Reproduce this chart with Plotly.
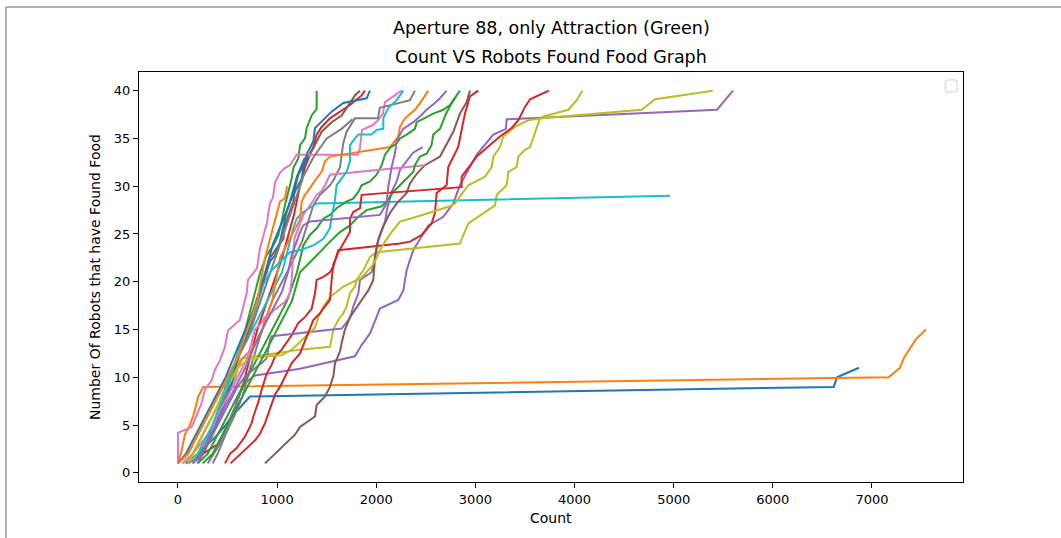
import plotly.graph_objects as go

# ---- data: (count, robots found food) vertices per run ----
run00_count = [80, 200, 300, 400, 480, 550, 640, 726, 6614, 6647, 6869]
run00_found = [1, 2, 3, 4, 5, 6, 7, 8, 9, 10, 11]

run01_count = [0, 30, 70, 120, 155, 180, 205, 255, 7168, 7283, 7320, 7444, 7545]
run01_found = [1, 2, 4, 5, 6, 7, 8, 9, 10, 11, 12, 14, 15]

run02_count = [150, 280, 350, 430, 500, 560, 620, 680, 730, 780, 830, 895, 962, 1012, 1046, 1079, 1113, 1147, 1163, 1214, 1231, 1281, 1298, 1349, 1399, 1399]
run02_found = [1, 3, 5, 7, 9, 11, 13, 15, 17, 19, 21, 22.8, 23.8, 24.9, 26.3, 28, 29.4, 30.8, 31.9, 32.9, 34.3, 35, 36.1, 37.4, 38.1, 40]

run03_count = [100, 250, 400, 500, 580, 650, 700, 750, 800, 850, 900, 950, 1000, 1050, 1090, 1130, 1170, 1200, 1230, 1264, 1281, 1331, 1365, 1399, 1449, 1533, 1667, 1735, 1853, 1886]
run03_found = [1, 2, 3, 5, 7, 9, 11, 13, 15, 16.5, 18, 19.5, 21, 22.5, 24, 25.5, 27, 28.5, 30, 31.2, 32, 33.3, 34.1, 35.4, 36.2, 37.1, 38, 38.5, 39.5, 40]

run04_count = [300, 420, 500, 580, 650, 710, 777, 1231, 1785, 1853, 1937, 1987, 2037, 2222, 2273, 2290, 2307, 2340, 2373, 2525, 2676, 2777, 2844, 2928, 3013, 3181, 3308, 3315, 5437, 5598]
run04_found = [1, 3, 5, 7, 9, 9.7, 10.2, 10.9, 12.2, 13.4, 14.6, 16, 17.2, 18.1, 19.1, 20.2, 21.2, 22.3, 23.3, 25.9, 26.8, 28.2, 30.1, 31.7, 33.3, 35.4, 36, 37, 38, 40]

run05_count = [200, 300, 380, 450, 520, 580, 640, 700, 760, 820, 895, 928, 995, 1063, 1079, 1113, 1163, 1180, 1214, 1264, 1315, 1365, 1449, 1550, 1651, 1718, 1785, 1836]
run05_found = [1, 3, 5, 7, 9, 11, 13, 15, 17, 19, 21, 22.5, 23.5, 24.5, 25.9, 27, 28.4, 29.8, 31.2, 32.2, 33.1, 34, 35.7, 36.7, 37.4, 38.5, 39.5, 40]

run06_count = [0, 0, 138, 239, 272, 340, 373, 424, 474, 504, 625, 693, 706, 797, 827, 857, 898, 908, 928, 958, 979, 1029, 1079, 1130, 1197, 1816, 1836, 1856, 1967, 2017, 2068, 2088, 2189, 2256]
run06_found = [1, 4.2, 4.8, 7.3, 8.7, 9.7, 10.8, 11.8, 13.2, 14.9, 16, 18.8, 20.2, 21.4, 23.5, 24.6, 26.2, 27, 28.2, 28.8, 30.4, 31.4, 31.9, 32.2, 33.3, 33.3, 34, 35.9, 36.4, 36.9, 37.6, 38.8, 39.5, 40]

run07_count = [350, 400, 480, 570, 650, 700, 760, 820, 880, 950, 1050, 1150, 1251, 1281, 1331, 1365, 1432, 1533, 1567, 1634, 1667, 1701, 1785, 2017, 2037, 2340, 2390]
run07_found = [1, 2, 4, 6, 8, 10, 12, 14, 16, 18, 20, 22, 24.2, 25.2, 26.7, 28, 29.1, 30.1, 30.6, 32, 34.5, 35.7, 37.1, 37.1, 38.2, 39, 40]

run08_count = [100, 200, 300, 400, 500, 580, 625, 660, 1231, 1533, 1567, 1617, 1667, 1701, 1735, 1785, 1802, 1870, 1937, 2004, 2542, 2844, 2928, 3198, 3215, 3315, 3332, 3416, 3433, 3500, 3551, 3584, 3618, 3652, 3685, 3937, 4022, 4079]
run08_found = [1, 2, 4, 6, 8, 10, 11.8, 12, 12.9, 13.2, 15, 16, 16.7, 17.4, 18.8, 19.5, 20.2, 21.2, 22.6, 23.1, 23.7, 24, 26.1, 28, 29.1, 30.1, 31.5, 32, 33.1, 33.8, 34.1, 35.2, 36.1, 37.1, 37.3, 38, 39, 40]

run09_count = [100, 200, 300, 400, 480, 550, 650, 750, 850, 950, 1050, 1100, 1163, 1197, 1264, 1399, 4963]
run09_found = [1, 3, 5, 7, 9, 11, 13, 15, 17, 19, 21, 23, 25.6, 26.6, 27.3, 28.2, 29]

run10_count = [150, 250, 350, 420, 500, 560, 600, 640, 720, 780, 830, 878, 928, 979, 1029, 1063, 1096, 1130, 1180, 1231, 1248, 1264, 1298, 1365, 1382, 1432, 1550, 1667, 1903, 1937]
run10_found = [1, 2, 4, 6, 8, 10, 12, 13, 15, 17, 19, 20.7, 22.1, 22.8, 24.2, 25.9, 27.3, 28.4, 29.4, 30.5, 30.8, 31.9, 33.3, 34.7, 36.1, 36.6, 37.8, 38.7, 39.2, 40]

run11_count = [50, 150, 250, 350, 450, 550, 650, 750, 850, 950, 1029, 1113, 1231, 1248, 1281, 1331, 1382, 1449, 1483, 1533, 1836, 2138, 2222, 2239, 2290, 2390, 2441, 2525]
run11_found = [1, 2, 4, 6, 8, 10, 12, 13, 15, 18, 22.5, 24.2, 26.5, 28.4, 29.1, 29.8, 30.6, 31.5, 32.6, 33.1, 33.6, 34.1, 35.2, 36.2, 37.1, 38, 38.7, 40]

run12_count = [200, 300, 400, 500, 600, 700, 800, 900, 1000, 1100, 1200, 1264, 1331, 1399, 1466, 1533, 1600, 1701, 1768, 1819, 1853, 1937, 2004, 2055, 2088, 2138, 2206, 2239, 2307, 2390, 2408, 2575, 2676, 2744, 2844]
run12_found = [1, 2, 4, 6, 8, 10, 12, 14, 16, 18, 21, 23.8, 24.9, 25.6, 26.6, 27, 27.7, 28.4, 28.7, 29.4, 30.1, 30.5, 31.2, 32.2, 33.3, 34, 34.5, 35, 35.4, 36, 36.7, 37.6, 38, 38.5, 40]

run13_count = [474, 525, 592, 643, 676, 710, 743, 760, 794, 810, 844, 878, 895, 945, 979, 1046, 1096, 1147, 1214, 1281, 1349, 1382, 1399, 1466, 1533, 1567, 1617, 2239, 2340, 2458, 2558, 2592, 2609, 2710, 2726, 2827, 2861, 2895, 2945, 3029]
run13_found = [1, 2, 2.6, 3.4, 3.8, 4.5, 5.2, 5.9, 6.8, 7.4, 8.7, 9.7, 10.4, 11.3, 12.2, 12.9, 13.6, 14.4, 15.7, 16.3, 17.2, 18.8, 20.2, 20.5, 21, 21.6, 23.3, 24, 24.2, 24.9, 26.1, 27.2, 29.3, 30.1, 32, 34.1, 35.9, 37.6, 39.4, 40]

run14_count = [150, 200, 300, 400, 500, 600, 676, 777, 844, 894, 911, 928, 945, 1231, 1651, 1735, 1768, 1819, 1836, 1953, 1987, 2004, 2037, 2088, 2111, 2155, 2206, 2239, 2307, 2371, 2468]
run14_found = [1, 1.5, 3, 5, 7, 9, 10.1, 10.9, 11.5, 12, 13.2, 13.9, 14.3, 14.6, 15.1, 16.2, 17.4, 18.8, 20.2, 21, 22.5, 23.8, 24.9, 26.3, 27.7, 29.4, 30.5, 31.7, 32.6, 33.5, 34.1]

run15_count = [878, 979, 1079, 1180, 1231, 1382, 1399, 1483, 1533, 1567, 1584, 1634, 1651, 1684, 1735, 1802, 1853, 1920, 1970, 1987, 2021, 2071, 2138, 2206, 2307, 2340, 2408, 2491, 2643, 2777, 2844, 2912, 2945]
run15_found = [1, 2, 3, 4, 4.8, 5.9, 7.1, 8, 9, 10.1, 11.5, 12.7, 13.6, 15, 16.3, 17.4, 18.1, 19.1, 20.2, 22.5, 24.4, 25.8, 27.2, 28.2, 29.3, 30.3, 31.3, 32.2, 33.1, 35.7, 37.6, 38.8, 40]

run16_count = [50, 150, 300, 450, 600, 700, 777, 844, 878, 1012, 1079, 1130, 1147, 1160, 1175, 1200, 1264, 1365, 1399, 1449, 1483, 1533, 2491]
run16_found = [1, 2, 4, 7, 10, 12, 15, 15.7, 16.3, 17.4, 17.9, 18.8, 20.2, 22.5, 24.5, 25.2, 27, 28.5, 29.1, 29.5, 30.1, 31.2, 32.2]

run17_count = [0, 100, 200, 300, 400, 500, 600, 700, 800, 900, 1000, 1100, 1163, 1264, 1365, 1500, 1650, 1760]
run17_found = [1, 2, 4, 6, 8, 10, 12, 14, 17, 20, 23, 26, 28, 31, 33, 35, 36, 37]

run18_count = [100, 200, 300, 400, 500, 600, 700, 878, 1046, 1147, 1231, 1382, 1416, 1466, 1533, 1667, 1850, 1953, 2004, 2037, 2088, 2155, 2239, 2408, 2744, 2794, 2928, 3097, 3164, 3181, 3248, 3281, 3399, 3534, 3668, 4677, 4811, 5394]
run18_found = [1, 3, 5, 7, 9, 11, 11.8, 12.2, 12.3, 12.9, 13.7, 15.2, 16.3, 17.4, 18.4, 19.5, 20.4, 21.6, 22.5, 23.3, 24.2, 25.2, 26.3, 26.8, 27.9, 28.2, 30.1, 31, 32, 33.1, 34.1, 35.2, 36.2, 36.9, 37.1, 38, 39.1, 40]

run19_count = [150, 250, 350, 420, 500, 560, 620, 700, 780, 861, 928, 1029, 1130, 1231, 1365, 1466, 1533, 1550, 1584, 1600, 1651, 1701, 1735, 1735, 1785, 1819, 1953, 2004, 2071, 2071, 2122, 2206, 2273]
run19_found = [1, 3, 5, 7, 9, 11, 13, 15, 17, 19.7, 21, 22.1, 23.1, 23.3, 23.8, 24.5, 25.6, 26.8, 28.6, 30.1, 30.8, 31.5, 32.6, 34.3, 35, 35.4, 35.4, 35.9, 36, 37.1, 38.2, 39, 40]

run20_count = [0, 80, 180, 280, 380, 480, 560, 640, 720, 800, 880, 960, 1040, 1120, 1200, 1280]
run20_found = [1, 2, 4, 6, 8, 10, 12, 14, 16, 18, 21, 24, 26, 28, 31, 33]

run21_count = [0, 100, 200, 300, 400, 500, 600, 700, 800, 878, 928, 962, 995, 1029, 1079, 1100]
run21_found = [1, 2, 4, 6, 8, 10, 12, 15, 18, 22.5, 24.5, 25.9, 27.3, 28.4, 28.7, 30]

run22_count = [250, 350, 450, 550, 650, 750, 850, 950, 1050, 1150, 1231, 1331, 1432, 1533, 1634, 1735, 1819, 1903, 2055, 2105, 2172, 2239, 2307, 2373, 2390, 2441, 2508, 2558, 2575, 2643, 2700, 2760, 2800]
run22_found = [1, 2, 4, 6, 8, 10, 12, 14, 16, 18, 21, 22.1, 23.1, 24.2, 25.2, 25.9, 26.8, 27.5, 27.9, 28.4, 29.4, 30.1, 30.8, 31.5, 32.2, 33.1, 33.4, 34.3, 35.4, 36, 37.5, 38.7, 39.3]

run23_count = [530, 643, 710, 777, 827, 878, 911, 945, 979, 1029, 1079, 1147, 1231, 1315, 1365, 1432, 1533, 1550, 1567, 1617, 1735, 1735, 1768, 1836, 1853, 2861, 2861, 2912, 3013, 3147, 3248, 3366, 3433, 3500, 3551, 3742]
run23_found = [1, 2.1, 2.7, 3.4, 4.1, 5.2, 6.2, 7.3, 8.2, 9, 10.1, 11.5, 12.5, 14.6, 16, 16.7, 18.1, 20.2, 21.8, 23.1, 25.2, 26.6, 27.3, 27.7, 29.1, 29.9, 31, 31.7, 33.1, 34.3, 35.2, 36.1, 36.9, 38.3, 39.1, 40]

run24_count = [200, 280, 380, 480, 580, 680, 760, 850, 950, 1050, 1113, 1147, 1197, 1231, 1264, 1331, 2037, 2105, 2122, 2155, 2190, 2206, 2272, 2373, 2441, 2508, 2592, 2643, 2710]
run24_found = [1, 3, 5, 7, 9, 11, 13, 15, 17, 19, 21.1, 22.8, 24.2, 25.2, 25.9, 26.3, 27, 28.2, 30, 32, 33.5, 34.8, 36, 36.7, 37.3, 38, 38.7, 39.2, 40]

x_ticks = [0, 1000, 2000, 3000, 4000, 5000, 6000, 7000]
y_ticks = [0, 5, 10, 15, 20, 25, 30, 35, 40]

title_line1 = "Aperture 88, only Attraction (Green)"
title_line2 = "Count VS Robots Found Food Graph"
x_label = "Count"
y_label = "Number Of Robots that have Found Food"

palette = ["#1f77b4", "#ff7f0e", "#2ca02c", "#d62728", "#9467bd",
           "#8c564b", "#e377c2", "#7f7f7f", "#bcbd22", "#17becf"]

runs = [
    (run00_count, run00_found), (run01_count, run01_found), (run02_count, run02_found),
    (run03_count, run03_found), (run04_count, run04_found), (run05_count, run05_found),
    (run06_count, run06_found), (run07_count, run07_found), (run08_count, run08_found),
    (run09_count, run09_found), (run10_count, run10_found), (run11_count, run11_found),
    (run12_count, run12_found), (run13_count, run13_found), (run14_count, run14_found),
    (run15_count, run15_found), (run16_count, run16_found), (run17_count, run17_found),
    (run18_count, run18_found), (run19_count, run19_found), (run20_count, run20_found),
    (run21_count, run21_found), (run22_count, run22_found), (run23_count, run23_found),
    (run24_count, run24_found),
]

fig = go.Figure()
for i, (cx, fy) in enumerate(runs):
    fig.add_trace(go.Scatter(
        x=cx, y=fy, mode="lines",
        line=dict(color=palette[i % 10], width=2),
        showlegend=False, hoverinfo="x+y",
    ))

font_family = "DejaVu Sans"
axis_common = dict(
    showline=True, mirror=True, linecolor="black", linewidth=1,
    ticks="outside", ticklen=5, tickwidth=1, tickcolor="black",
    showgrid=False, zeroline=False,
    tickfont=dict(family=font_family, size=13, color="black"),
)

# rounded empty legend frame (paper coordinates)
lx0, lx1, ly0, ly1, rx, ry = 0.9785, 0.9930, 0.9510, 0.9805, 0.003, 0.006
legend_path = (
    f"M {lx0+rx},{ly0} L {lx1-rx},{ly0} Q {lx1},{ly0} {lx1},{ly0+ry} "
    f"L {lx1},{ly1-ry} Q {lx1},{ly1} {lx1-rx},{ly1} "
    f"L {lx0+rx},{ly1} Q {lx0},{ly1} {lx0},{ly1-ry} "
    f"L {lx0},{ly0+ry} Q {lx0},{ly0} {lx0+rx},{ly0} Z"
)

fig.update_layout(
    width=1061, height=538,
    margin=dict(l=139, r=98, t=72, b=56),
    paper_bgcolor="white", plot_bgcolor="white",
    xaxis=dict(range=[-393, 7918], tickvals=x_ticks, **axis_common),
    yaxis=dict(range=[-0.95, 41.95], tickvals=y_ticks, **axis_common),
    font=dict(family=font_family, color="black"),
    annotations=[
        dict(text=title_line1, x=0.5, y=1.107, xref="paper", yref="paper",
             xanchor="center", yanchor="middle", showarrow=False,
             font=dict(family=font_family, size=17.5, color="black")),
        dict(text=title_line2, x=0.5, y=1.0366, xref="paper", yref="paper",
             xanchor="center", yanchor="middle", showarrow=False,
             font=dict(family=font_family, size=17.5, color="black")),
        dict(text=x_label, x=0.5, y=-0.088, xref="paper", yref="paper",
             xanchor="center", yanchor="middle", showarrow=False,
             font=dict(family=font_family, size=14, color="black")),
        dict(text=y_label, x=-0.0534, y=0.5, xref="paper", yref="paper",
             xanchor="center", yanchor="middle", showarrow=False, textangle=-90,
             font=dict(family=font_family, size=14, color="black")),
    ],
    shapes=[
        dict(type="path", xref="paper", yref="paper", path=legend_path,
             line=dict(color="#d0d0d0", width=1), fillcolor="white"),
        # outer page border (top and left)
        dict(type="line", xref="paper", yref="paper",
             x0=-0.1614, x1=1.12, y0=1.1585, y1=1.1585,
             line=dict(color="#9a9a9a", width=1.5)),
        dict(type="line", xref="paper", yref="paper",
             x0=-0.1614, x1=-0.1614, y0=1.1585, y1=-0.14,
             line=dict(color="#9a9a9a", width=1.5)),
    ],
)

fig.write_html("out.html")
